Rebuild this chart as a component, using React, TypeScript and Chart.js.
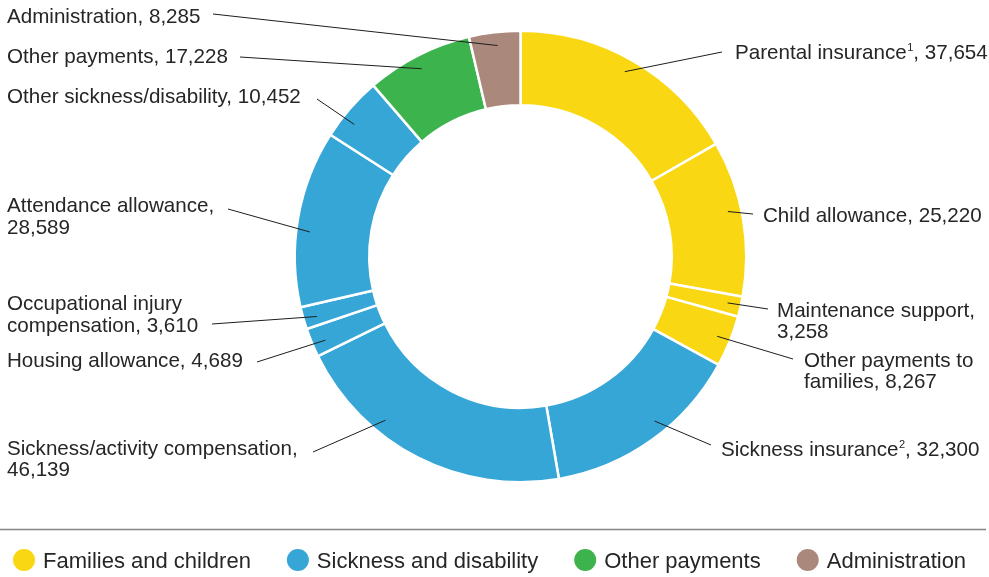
import React, { useEffect, useRef } from 'react';
import { Chart, registerables } from 'chart.js';

Chart.register(...registerables);

// ---- data ----
const categories = [
  'Parental insurance¹',
  'Child allowance',
  'Maintenance support',
  'Other payments to families',
  'Sickness insurance²',
  'Sickness/activity compensation',
  'Housing allowance',
  'Occupational injury compensation',
  'Attendance allowance',
  'Other sickness/disability',
  'Other payments',
  'Administration',
];
const values = [37654, 25220, 3258, 8267, 32300, 46139, 4689, 3610, 28589, 10452, 17228, 8285];
const groupOf = [0, 0, 0, 0, 1, 1, 1, 1, 1, 1, 2, 3];
const groups = ['Families and children', 'Sickness and disability', 'Other payments', 'Administration'];

// ---- styles / layout ----
const groupColors = ['#F9D712', '#36A6D7', '#3CB34D', '#AB887C'];
const FONT = '"Liberation Sans", Arial, Helvetica, sans-serif';
const TEXT = '#262626';
const LABEL_SIZE = 20.6;

// label placement: x, first baseline y, leader outer end (ex, ey), words on first line (0 = no wrap),
// at = fraction along the slice where the leader starts, lh = line height
const labelLayout = [
  { x: 735, y: 59, ex: 722, ey: 52, wrap: 0, at: 0.49, lh: 21 },
  { x: 763, y: 222, ex: 753, ey: 214, wrap: 0, at: 0.44, lh: 21 },
  { x: 777, y: 317, ex: 768, ey: 309, wrap: 2, at: 0.45, lh: 20.5 },
  { x: 804, y: 367, ex: 793, ey: 359, wrap: 3, at: 0.5, lh: 20.5 },
  { x: 721, y: 456, ex: 711, ey: 445, wrap: 0, at: 0.43, lh: 21 },
  { x: 7, y: 455, ex: 313, ey: 452, wrap: 2, at: 0.67, lh: 20.5 },
  { x: 7, y: 367, ex: 257, ey: 362, wrap: 0, at: 0.4, lh: 21 },
  { x: 7, y: 310, ex: 212, ey: 324, wrap: 2, at: 0.4, lh: 22 },
  { x: 7, y: 212, ex: 228, ey: 209, wrap: 2, at: 0.43, lh: 22 },
  { x: 7, y: 103, ex: 317, ey: 99, wrap: 0, at: 0.35, lh: 21 },
  { x: 7, y: 63, ex: 240, ey: 57, wrap: 0, at: 0.47, lh: 21 },
  { x: 7, y: 23, ex: 213, ey: 14, wrap: 0, at: 0.53, lh: 21 },
];

const fmt = (v: number) => v.toLocaleString('en-US');
const SUP: Record<string, string> = { '¹': '1', '²': '2' };

function drawRich(ctx: CanvasRenderingContext2D, text: string, x: number, y: number) {
  let run = '';
  let cx = x;
  const flush = () => {
    if (run) {
      ctx.font = `${LABEL_SIZE}px ${FONT}`;
      ctx.fillText(run, cx, y);
      cx += ctx.measureText(run).width;
      run = '';
    }
  };
  for (const ch of text) {
    if (SUP[ch]) {
      flush();
      ctx.font = `11px ${FONT}`;
      ctx.fillText(SUP[ch], cx + 0.5, y - 8);
      cx += ctx.measureText(SUP[ch]).width + 0.5;
    } else run += ch;
  }
  flush();
}

const labelPlugin = {
  id: 'labelPlugin',
  afterDatasetsDraw(chart: any) {
    const ctx: CanvasRenderingContext2D = chart.ctx;
    const meta = chart.getDatasetMeta(0);
    ctx.save();
    // leader lines
    ctx.strokeStyle = '#1e1e1e';
    ctx.lineWidth = 1;
    meta.data.forEach((arc: any, i: number) => {
      const L = labelLayout[i];
      const p = arc.getProps(['x', 'y', 'startAngle', 'endAngle', 'outerRadius'], true);
      const a = p.startAngle + (p.endAngle - p.startAngle) * L.at;
      const r = p.outerRadius * 0.94;
      const sx = p.x + Math.cos(a) * r;
      const sy = p.y + Math.sin(a) * r;
      ctx.beginPath();
      ctx.moveTo(sx, sy);
      ctx.lineTo(L.ex, L.ey);
      ctx.stroke();
    });
    // labels
    ctx.fillStyle = TEXT;
    ctx.textBaseline = 'alphabetic';
    ctx.textAlign = 'left';
    categories.forEach((name, i) => {
      const L = labelLayout[i];
      const words = `${name}, ${fmt(values[i])}`.split(' ');
      const lines = L.wrap > 0 ? [words.slice(0, L.wrap).join(' '), words.slice(L.wrap).join(' ')] : [words.join(' ')];
      lines.forEach((ln, k) => drawRich(ctx, ln, L.x, L.y + k * L.lh));
    });
    // separator line
    ctx.strokeStyle = '#858585';
    ctx.lineWidth = 1.3;
    ctx.beginPath();
    ctx.moveTo(0, 529.5);
    ctx.lineTo(986, 529.5);
    ctx.stroke();
    // legend
    ctx.font = `22px ${FONT}`;
    let x = 13;
    const cy = 560;
    groups.forEach((g, i) => {
      ctx.fillStyle = groupColors[i];
      ctx.beginPath();
      ctx.arc(x + 11, cy, 11, 0, Math.PI * 2);
      ctx.fill();
      ctx.fillStyle = TEXT;
      ctx.fillText(g, x + 30, cy + 8);
      x += 30 + ctx.measureText(g).width + 36;
    });
    ctx.restore();
  },
};

export default function App() {
  const ref = useRef<HTMLCanvasElement>(null);
  useEffect(() => {
    const chart = new Chart(ref.current as HTMLCanvasElement, {
      type: 'doughnut',
      data: {
        labels: categories,
        datasets: [
          {
            data: values,
            backgroundColor: values.map((_, i) => groupColors[groupOf[i]]),
            borderColor: '#ffffff',
            borderWidth: 2.5,
          },
        ],
      },
      options: {
        responsive: false,
        animation: false,
        cutout: '67%',
        events: [],
        layout: { padding: { left: 52, right: 0, top: 29.5, bottom: 93.5 } },
        plugins: { legend: { display: false }, tooltip: { enabled: false } },
      },
      plugins: [labelPlugin],
    } as any);
    return () => chart.destroy();
  }, []);
  return (
    <div style={{ position: 'absolute', left: 0, top: 0, width: 989, height: 577, background: '#fff' }}>
      <canvas ref={ref} width={989} height={577} style={{ display: 'block', width: 989, height: 577 }} />
    </div>
  );
}
